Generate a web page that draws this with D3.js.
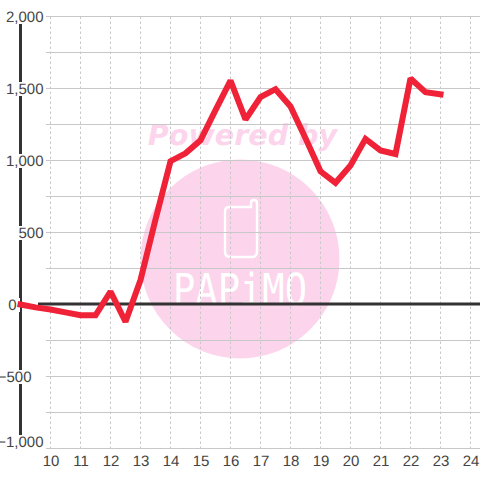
<!DOCTYPE html>
<html><head><meta charset="utf-8">
<script src="https://cdn.jsdelivr.net/npm/d3@7/dist/d3.min.js"></script>
<style>html,body{margin:0;padding:0;background:#fff}svg{display:block}text{text-rendering:geometricPrecision}</style>
</head><body><svg id="c" width="480" height="480"></svg>
<script>
const hours=[9,9.5,10,10.5,11,11.5,12,12.5,13,13.5,14,14.5,15,15.5,16,16.5,17,17.5,18,18.5,19,19.5,20,20.5,21,21.5,22,22.5,23];
const values=[0,-20,-35,-55,-75,-75,90,-120,170,590,995,1050,1140,1350,1555,1285,1440,1495,1375,1155,925,845,965,1150,1070,1045,1570,1475,1460];
const hourTicks=[10,11,12,13,14,15,16,17,18,19,20,21,22,23,24];
const valueLabels=[2000,1500,1000,500,0,-500,-1000];
const gridValues=[2000,1750,1500,1250,1000,750,500,250,-250,-500,-750,-1000];
const x=d3.scaleLinear().domain([10,24]).range([50.5,470.5]);
const y=d3.scaleLinear().domain([-1000,2000]).range([448.5,16.5]);
const svg=d3.select("#c");
const font="'Liberation Sans',Arial,sans-serif";
const pink="#fcd5ec";
svg.append("circle").attr("cx",240).attr("cy",259).attr("r",99.5).attr("fill",pink);
svg.append("text").attr("x",242.5).attr("y",145).attr("text-anchor","middle")
  .attr("font-family","'DejaVu Sans'").attr("font-weight","bold").attr("font-style","italic")
  .attr("font-size",28.6).attr("fill",pink).text("Powered by");
svg.append("path").attr("d","M229 207 H251 V203 Q251 200 254 200 Q257 200 257 203 V251 Q257 257 252 257 H231 Q225 257 225 252 V212 Q225 207 229 207 Z")
  .attr("fill","none").attr("stroke","#fff").attr("stroke-width",2.4);
svg.append("text").attr("x",240).attr("y",305).attr("text-anchor","middle")
  .attr("font-family","'DejaVu Sans Mono'").attr("font-size",44).attr("textLength",134).attr("lengthAdjust","spacingAndGlyphs")
  .attr("fill","#fff").text("PAPiMO");
svg.append("g").selectAll("line").data(hourTicks).join("line")
  .attr("x1",d=>x(d)).attr("x2",d=>x(d)).attr("y1",y(2000)).attr("y2",y(-1000))
  .attr("stroke","#c8c8c8").attr("stroke-width",1).attr("stroke-dasharray","2.5,2.5");
svg.append("g").selectAll("line").data(gridValues).join("line")
  .attr("x1",46).attr("x2",480).attr("y1",d=>y(d)).attr("y2",d=>y(d))
  .attr("stroke","#c8c8c8").attr("stroke-width",1);
svg.append("line").attr("x1",20.5).attr("x2",20.5).attr("y1",24).attr("y2",437).attr("stroke","#333").attr("stroke-width",3);
svg.append("line").attr("x1",38).attr("x2",480).attr("y1",y(0)-0.5).attr("y2",y(0)-0.5).attr("stroke","#333").attr("stroke-width",3);
const fmt=d3.format(",");
const labelY=d=>d===2000?22:(d===-1000?447:y(d)+5.5);
const labelX=d=>d===0?16.5:(d===-500?31.5:43.5);
svg.append("g").selectAll("rect").data(valueLabels).join("rect")
  .attr("x",d=>d===0?6:2).attr("width",d=>d===0?14:(d===-500?30:41))
  .attr("y",d=>labelY(d)-12).attr("height",14).attr("fill","#fff");
svg.append("g").selectAll("text").data(valueLabels).join("text")
  .attr("x",labelX).attr("text-anchor","end").attr("y",labelY)
  .attr("font-family",font).attr("font-size",15).attr("fill","#444").text(d=>fmt(d));
svg.append("g").selectAll("text").data(hourTicks).join("text")
  .attr("x",d=>x(d)+0.5).attr("y",466).attr("text-anchor","middle")
  .attr("font-family",font).attr("font-size",15).attr("fill","#444").text(d=>d);
const line=d3.line().x((d,i)=>x(hours[i])).y(d=>y(d)).curve(d3.curveLinear);
svg.append("path").attr("d",line(values)).attr("fill","none").attr("stroke","#f02238")
  .attr("stroke-width",6).attr("stroke-linejoin","miter").attr("stroke-miterlimit",2).attr("stroke-linecap","square");
</script></body></html>
